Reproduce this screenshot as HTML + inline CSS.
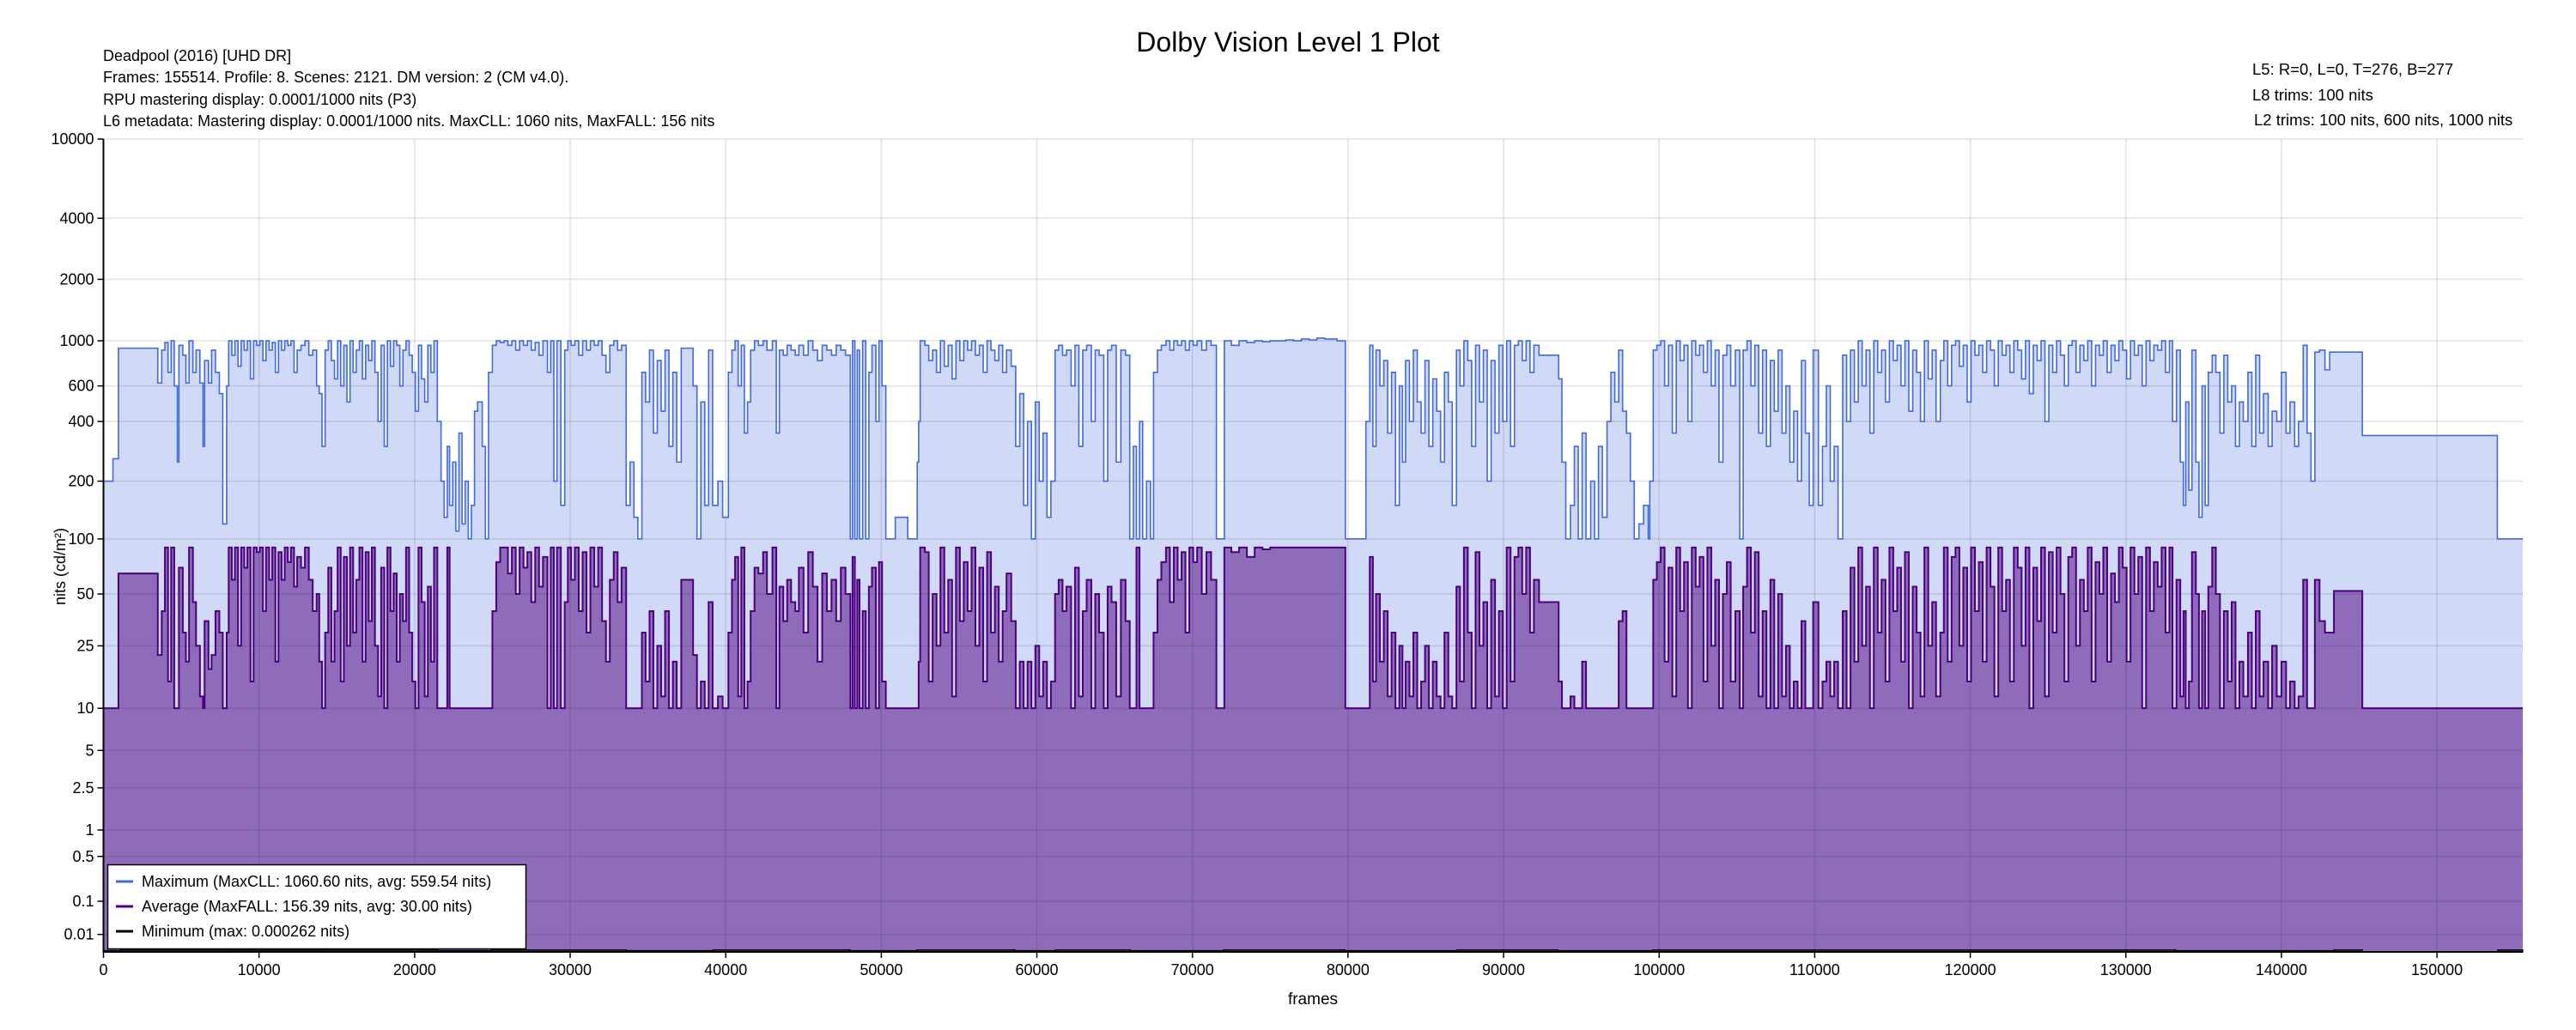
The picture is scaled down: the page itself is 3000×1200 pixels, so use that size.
<!DOCTYPE html>
<html><head><meta charset="utf-8"><style>
html,body{margin:0;padding:0;background:#fff;}
svg{display:block;font-family:"Liberation Sans",Arial,sans-serif;}
</style></head><body>
<svg id="chart" width="3000" height="1200" viewBox="0 0 3000 1200" xmlns="http://www.w3.org/2000/svg">
<rect width="3000" height="1200" fill="#fff"/>
<text x="1500" y="60" font-size="32" text-anchor="middle" fill="#000">Dolby Vision Level 1 Plot</text>
<g font-size="18" fill="#000">
<text x="120" y="71">Deadpool (2016) [UHD DR]</text>
<text x="120" y="96">Frames: 155514. Profile: 8. Scenes: 2121. DM version: 2 (CM v4.0).</text>
<text x="120" y="122">RPU mastering display: 0.0001/1000 nits  (P3)</text>
<text x="120" y="147">L6 metadata: Mastering display: 0.0001/1000 nits. MaxCLL: 1060 nits, MaxFALL: 156 nits</text>
</g>
<g font-size="18.5" fill="#000">
<text x="2623" y="87">L5: R=0, L=0, T=276, B=277</text>
<text x="2623" y="117">L8 trims: 100 nits</text>
<text x="2625" y="146">L2 trims: 100 nits, 600 nits, 1000 nits</text>
</g>
<g id="plot"></g>
<text x="1529" y="1170" font-size="19" text-anchor="middle">frames</text>
<text x="0" y="0" font-size="18" text-anchor="middle" transform="translate(76,660) rotate(-90)">nits (cd/m²)</text>
<g>
<rect x="125.5" y="1007.5" width="487" height="98" fill="#fff" stroke="#000" stroke-width="1.5"/>
<g><line x1="135" y1="1027" x2="155" y2="1027" stroke="#4169e1" stroke-width="3"/><text x="165" y="1033" font-size="18">Maximum (MaxCLL: 1060.60 nits, avg: 559.54 nits)</text></g>
<g><line x1="135" y1="1056" x2="155" y2="1056" stroke="#4b0082" stroke-width="3"/><text x="165" y="1062" font-size="18">Average (MaxFALL: 156.39 nits, avg: 30.00 nits)</text></g>
<g><line x1="135" y1="1085" x2="155" y2="1085" stroke="#000" stroke-width="3"/><text x="165" y="1091" font-size="18">Minimum (max: 0.000262 nits)</text></g>
</g>
</svg>
<script>
const TOTAL_FRAMES = 155514;
const yTicks = [10000,4000,2000,1000,600,400,200,100,50,25,10,5,2.5,1,0.5,0.1,0.01];
const yTickLabels = ["10000","4000","2000","1000","600","400","200","100","50","25","10","5","2.5","1","0.5","0.1","0.01"];
const xTicks = [0,10000,20000,30000,40000,50000,60000,70000,80000,90000,100000,110000,120000,130000,140000,150000];
// scenes: start frame, max nits, avg nits
const sceneStart = [0,608,963,3492,3745,3950,4150,4350,4550,4750,4850,5100,5300,5500,5750,5950,6200,6400,6500,6750,6950,7200,7450,7670,7920,8050,8250,8450,8650,8850,9050,9250,9450,9650,9850,10050,10250,10450,10650,10850,11050,11250,11450,11650,11850,12050,12250,12450,12700,12950,13200,13450,13700,13870,14050,14250,14450,14650,14850,15050,15250,15450,15650,15850,16050,16250,16450,16650,16850,17050,17250,17450,17650,17850,18050,18250,18450,18650,18850,19050,19250,19450,19650,19850,20050,20250,20450,20650,20850,21050,21250,21460,21700,21900,22100,22250,22450,22650,22850,23050,23250,23450,23650,23850,24050,24350,24550,24750,25000,25250,25500,25750,26000,26250,26500,26750,27000,27250,27500,27750,28000,28250,28540,28750,28950,29150,29400,29650,29850,30060,30300,30550,30800,31050,31300,31550,31800,32050,32300,32550,32800,33050,33300,33600,33850,34100,34350,34610,34850,35100,35350,35600,35850,36100,36350,36600,36850,37140,37900,38150,38400,38650,38900,39157,39500,39800,40170,40400,40600,40800,41000,41200,41400,41600,41850,42100,42400,42650,43000,43250,43450,43700,43950,44200,44470,44700,45000,45300,45600,45900,46200,46500,46800,47100,47400,47700,48010,48150,48300,48450,48600,48800,49000,49200,49400,49650,49850,50050,50290,50900,51700,52310,52400,52500,52800,53050,53300,53550,53800,54050,54300,54550,54800,55050,55300,55550,55800,56050,56300,56550,56800,57050,57300,57550,57800,58050,58350,58640,58900,59150,59400,59650,59900,60150,60400,60650,60900,61170,61400,61650,61900,62200,62450,62700,62950,63200,63500,63750,64000,64300,64550,64800,65100,65400,65700,65970,66200,66400,66600,66800,67050,67300,67500,67750,68000,68300,68550,68800,69050,69300,69550,69800,70050,70300,70600,70900,71200,71540,72050,72500,73000,73500,74000,74500,75000,75500,76000,76500,77000,77500,78000,78500,79300,79830,81150,81400,81600,81800,82050,82300,82550,82800,83050,83300,83500,83700,83950,84200,84450,84700,84950,85200,85450,85700,85950,86200,86450,86700,86970,87200,87450,87700,87950,88200,88450,88700,88950,89200,89450,89700,89950,90200,90450,90700,90950,91200,91450,91700,91950,92280,93540,93750,94000,94300,94550,94800,95050,95300,95600,95850,96100,96350,96650,96900,97150,97400,97650,97900,98150,98400,98700,99000,99300,99400,99620,99850,100100,100350,100600,100850,101100,101350,101600,101850,102100,102350,102600,102850,103100,103350,103600,103850,104100,104350,104600,104900,105180,105400,105650,105900,106150,106400,106650,106900,107150,107400,107650,107900,108150,108400,108650,108900,109150,109400,109650,109900,110240,110500,110750,111000,111250,111500,111800,112050,112300,112550,112800,113050,113300,113550,113800,114050,114300,114550,114800,115050,115300,115550,115800,116050,116300,116550,116800,117050,117300,117550,117800,118075,118300,118550,118800,119050,119300,119550,119800,120050,120300,120550,120800,121050,121300,121550,121800,122050,122300,122550,122800,123050,123300,123550,123800,124050,124300,124550,124800,125050,125300,125550,125800,126050,126300,126550,126800,127050,127300,127550,127800,128050,128300,128550,128800,129050,129300,129550,129800,130050,130300,130550,130800,131050,131300,131550,131800,132050,132300,132550,132800,133000,133255,133500,133700,133850,134050,134250,134500,134700,134900,135100,135300,135550,135785,136050,136300,136550,136800,137050,137300,137550,137850,138100,138350,138600,138850,139150,139400,139700,140000,140300,140550,140850,141100,141400,141650,141900,142150,142450,142800,143100,143375,145200,153880];
const maxNits = [200,260,920,620,900,980,700,1000,600,250,950,850,620,1000,700,900,620,300,800,620,900,700,550,120,600,1000,850,1000,750,1000,900,1000,650,1000,950,1000,800,1000,900,980,700,1000,900,1000,950,1000,700,900,950,1000,850,900,600,550,300,900,1000,800,650,1000,600,950,500,1000,700,900,1000,650,950,800,1000,700,400,950,300,1000,750,1000,950,600,900,1000,850,700,450,950,650,500,950,700,1000,400,200,130,300,150,250,110,350,120,200,100,150,450,500,300,100,700,950,1000,980,1000,950,1000,900,1000,950,1000,900,980,850,1000,700,1000,200,1000,150,900,1000,950,1000,850,1000,900,1000,950,1000,850,700,950,1000,900,950,150,250,130,100,700,500,900,350,800,450,900,300,700,250,920,600,100,500,150,900,150,200,130,700,900,1000,600,950,350,500,900,1000,950,1000,900,1000,350,900,850,950,900,850,950,850,1000,900,800,950,900,850,950,900,850,100,1000,100,900,100,1000,100,700,950,400,1000,600,100,130,100,250,400,1000,950,800,900,700,1000,750,950,650,1000,800,1000,900,1000,850,950,700,1000,900,800,950,700,900,750,300,550,150,400,100,500,200,350,130,200,900,950,850,900,600,950,300,900,950,400,900,850,200,900,950,250,900,850,100,300,100,400,100,200,100,700,900,950,1000,900,1000,950,1000,900,1000,950,1000,900,1000,950,100,1000,950,1000,980,1000,990,1000,1000,1010,1000,1020,1010,1030,1020,1000,100,400,950,300,900,600,800,350,700,150,600,250,800,400,900,500,350,800,300,650,450,250,700,500,150,900,600,1000,800,300,950,500,900,200,800,350,950,400,1000,300,950,1000,800,1000,700,950,850,650,250,100,150,300,100,350,100,200,100,300,130,400,700,500,900,450,350,200,100,120,150,100,200,900,950,1000,600,950,350,1000,800,950,400,1000,850,950,700,1000,600,900,250,850,950,600,900,100,900,1000,600,950,350,900,300,800,450,900,350,600,250,450,200,800,350,150,900,150,300,600,200,300,100,850,400,900,500,1000,600,900,350,1000,700,900,500,1000,800,950,600,1000,450,900,700,400,1000,650,900,400,800,1000,600,950,1000,750,950,500,1000,850,950,700,1000,900,600,1000,850,950,700,1000,900,650,1000,550,950,800,1000,400,950,700,1000,850,600,950,1000,700,950,800,1000,600,950,850,1000,700,950,800,1000,900,650,1000,850,950,600,1000,800,950,900,1000,700,1000,400,900,250,150,500,180,900,250,130,600,150,700,850,700,350,850,500,600,300,500,400,700,300,850,350,550,300,450,400,700,350,500,300,400,950,350,200,880,900,720,880,880,340,100];
const avgNits = [10,10,65,22,40,90,15,90,10,10,70,30,20,90,45,25,12,10,35,18,22,40,30,10,30,90,60,90,25,90,70,90,15,90,85,90,40,90,60,90,20,85,60,90,75,90,55,80,70,90,60,40,50,20,10,30,70,20,40,90,15,80,25,90,30,60,90,20,85,35,90,25,12,70,10,90,40,65,20,50,35,90,30,15,10,90,45,12,55,20,90,10,10,10,90,10,10,10,10,10,10,10,10,10,10,10,10,10,40,75,90,90,65,90,50,90,70,85,45,90,55,80,10,90,10,90,10,45,90,60,90,40,85,30,90,55,90,35,20,60,85,45,70,10,10,10,10,30,15,40,10,25,12,40,10,20,10,60,22,10,15,10,45,10,12,10,30,60,80,12,90,10,15,40,70,65,85,50,90,10,55,35,60,45,40,70,30,85,55,20,65,40,60,35,70,50,10,80,10,60,10,40,10,55,70,10,75,15,10,10,10,10,20,90,85,15,50,25,90,30,60,12,90,35,75,40,90,25,70,15,85,30,55,20,40,65,35,10,20,10,20,10,25,12,20,10,15,50,60,40,55,10,70,12,40,60,10,50,30,10,55,45,12,60,35,10,10,90,10,10,10,10,30,60,75,90,45,90,60,85,30,90,75,90,50,85,60,10,90,85,90,80,90,88,90,90,90,90,90,90,90,90,90,10,10,80,15,50,20,40,12,30,10,25,10,20,12,30,10,15,25,10,20,12,10,30,12,10,55,15,90,30,10,85,25,45,10,60,12,40,10,90,15,80,90,50,90,30,60,45,15,10,10,12,10,10,20,10,10,10,10,10,10,10,10,35,40,10,10,10,10,10,10,10,60,75,90,20,70,12,90,40,75,10,90,55,80,15,90,25,60,10,50,75,15,40,10,55,90,30,85,12,40,10,60,10,50,12,25,10,15,10,35,10,10,45,10,15,20,12,20,10,40,10,70,20,90,25,55,10,90,30,60,15,90,40,70,20,85,10,55,30,12,90,25,45,12,30,90,20,80,90,25,70,15,90,40,75,20,90,55,12,90,40,60,15,90,70,25,90,10,70,35,90,12,85,30,90,50,15,80,90,25,60,40,90,15,75,50,90,20,65,45,90,70,20,90,50,80,10,90,40,75,55,90,30,90,10,60,12,40,10,15,85,50,10,40,10,55,90,50,10,40,15,45,10,20,12,30,10,40,12,20,10,25,12,20,10,15,10,12,60,10,10,60,35,30,30,52,10,10];
// minimum series (scene starts / nits)
const minStart = [0,1100,3500,8000,14000,21500,25000,33600,39200,48000,52300,58600,61200,66000,72000,79800,87000,93500,99600,110200,118000,133200,143400,145200,153900];
const minNits = [0.0001,0.0002,0.0002,0.00015,0.0002,0.0001,0.0002,0.0001,0.0002,0.0001,0.0002,0.0001,0.0002,0.0001,0.0002,0.0001,0.0002,0.0001,0.0002,0.0002,0.0002,0.0001,0.0002,0,0.0002];

const X0 = 120.5, X1 = 2938, Y0 = 1109, Y1 = 162;
function pq(n){
  const m1=2610/16384, m2=2523/4096*128, c1=3424/4096, c2=2413/4096*32, c3=2392/4096*32;
  const y=Math.pow(Math.max(n||0,0)/10000,m1);
  return Math.pow((c1+c2*y)/(1+c3*y),m2);
}
function xs(f){ return X0 + f/TOTAL_FRAMES*(X1-X0); }
function ys(n){ return Y0 - pq(n)*(Y0-Y1); }
const NS="http://www.w3.org/2000/svg";
const plot=document.getElementById('plot');
function mk(tag,attrs,parent){ const e=document.createElementNS(NS,tag); for(const k in attrs) e.setAttribute(k,attrs[k]); (parent||plot).appendChild(e); return e; }
function stepPath(starts, vals, closed){
  let d = closed ? `M${xs(starts[0]).toFixed(2)},${Y0} V${ys(vals[0]).toFixed(2)}` : `M${xs(starts[0]).toFixed(2)},${ys(vals[0]).toFixed(2)}`;
  for(let i=0;i<starts.length;i++){
    const xe = xs(i+1<starts.length?starts[i+1]:TOTAL_FRAMES);
    d += ` H${xe.toFixed(2)}`;
    if(i+1<starts.length) d += ` V${ys(vals[i+1]).toFixed(2)}`;
  }
  if(closed) d += ` V${Y0} Z`;
  return d;
}
// fills
const maxFill = mk('path',{d:stepPath(sceneStart,maxNits,true),fill:'#d0d9f6',stroke:'none'});


const avgFill = mk('path',{d:stepPath(sceneStart,avgNits,true),fill:'#8e6cb9',stroke:'none'});


// grid
const grid = mk('g',{stroke:'rgba(0,0,0,0.11)','stroke-width':'1.5'});


yTicks.forEach(v=>{ const y=ys(v); mk('line',{x1:X0,x2:X1,y1:y,y2:y},grid); });
xTicks.forEach(v=>{ const x=xs(v); mk('line',{x1:x,x2:x,y1:Y1,y2:Y0},grid); });
// lines
const maxLine = mk('path',{d:stepPath(sceneStart,maxNits,false),fill:'none',stroke:'#4169e1','stroke-width':'1.6'});


const avgLine = mk('path',{d:stepPath(sceneStart,avgNits,false),fill:'none',stroke:'#4b0082','stroke-width':'2'});


const minFill = mk('path',{d:stepPath(minStart,minNits,true),fill:'#3e2a5c',stroke:'#000','stroke-width':'1.2'});


// axes
const axes = mk('g',{stroke:'#000','stroke-width':'2'});


mk('line',{x1:X0,x2:X0,y1:Y1,y2:Y0},axes);
mk('line',{x1:X0-1,x2:X1,y1:Y0,y2:Y0},axes);
yTicks.forEach((v,i)=>{
  const y=ys(v);
  mk('line',{x1:X0-7,x2:X0,y1:y,y2:y,'stroke-width':'1.5'},axes);
  const t=mk('text',{x:X0-11,y:y+6,'font-size':'18','text-anchor':'end',fill:'#000',stroke:'none'});
  
  
  t.textContent=yTickLabels[i];
});
xTicks.forEach(v=>{
  const x=xs(v);
  mk('line',{x1:x,x2:x,y1:Y0,y2:Y0+7,'stroke-width':'1.5'},axes);
  const t=mk('text',{x:x,y:Y0+27,'font-size':'18','text-anchor':'middle',fill:'#000',stroke:'none'});
  
  
  t.textContent=String(v);
});
</script>
</body></html>
